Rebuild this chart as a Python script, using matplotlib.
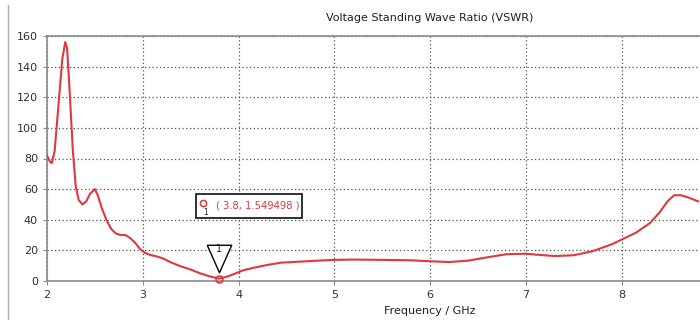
import matplotlib
matplotlib.use("Agg")
import matplotlib.pyplot as plt
import matplotlib.transforms as mtransforms
from matplotlib.lines import Line2D
from matplotlib.patches import Rectangle

# VSWR curve
freq = [2.00, 2.03, 2.05, 2.08, 2.12, 2.16, 2.19, 2.21, 2.24, 2.27, 2.30, 2.33,
        2.37, 2.41, 2.45, 2.50, 2.53, 2.57, 2.62, 2.67, 2.72, 2.77, 2.82, 2.87,
        2.92, 2.97, 3.02, 3.08, 3.15, 3.22, 3.30, 3.40, 3.50, 3.60, 3.70, 3.80,
        3.88, 3.95, 4.05, 4.15, 4.30, 4.45, 4.60, 4.80, 5.00, 5.20, 5.50, 5.80,
        6.00, 6.20, 6.40, 6.60, 6.80, 7.00, 7.15, 7.30, 7.50, 7.70, 7.90, 8.00,
        8.15, 8.30, 8.40, 8.48, 8.55, 8.62, 8.70, 8.80]
vswr = [82, 78, 77, 85, 115, 145, 156, 152, 120, 85, 62, 53,
        50, 52, 57, 60, 56, 48, 40, 34, 31, 30, 30, 28,
        25, 21, 18.5, 17, 16, 14.5, 12, 9.5, 7.5, 5, 3, 1.55,
        2.8, 4.5, 7, 8.5, 10.5, 12, 12.5, 13.2, 13.8, 14, 13.8, 13.5,
        12.9, 12.4, 13.3, 15.5, 17.5, 17.8, 17, 16.3, 16.8, 19.5, 24, 27,
        31.5, 38, 45, 52, 56, 56, 54.5, 52]

marker_x = 3.8
marker_y = 1.549498
marker_label = "1"

x_ticks = [2, 3, 4, 5, 6, 7, 8]
y_ticks = [0, 20, 40, 60, 80, 100, 120, 140, 160]

red = "#e0383c"
plt.rcParams["font.family"] = ["DejaVu Sans"]
plt.rcParams["font.size"] = 8

fig = plt.figure(figsize=(7, 3.2), dpi=100)
# the plot window is cut off on the right in the screenshot
ax = fig.add_axes([47 / 700, 1 - 281 / 320, 766 / 700, 245 / 320])

ax.plot(freq, vswr, color=red, lw=1.5, zorder=3)

ax.set_xlim(2, 10)
ax.set_ylim(0, 160)
ax.set_xticks(x_ticks)
ax.set_yticks(y_ticks)
ax.grid(True, color="#505050", linestyle=(0, (1, 2)), lw=0.9)
for side in ["left", "bottom", "top"]:
    ax.spines[side].set_color("#8a8a8a")
    ax.spines[side].set_linewidth(1.2)
ax.spines["right"].set_visible(False)
ax.tick_params(colors="#8a8a8a", labelcolor="#303030", length=3, labelsize=8)

ax.set_title("Voltage Standing Wave Ratio (VSWR)", fontsize=8, color="#202020", pad=11)
ax.set_xlabel("Frequency / GHz", fontsize=8, color="#202020", labelpad=4)

# marker point
ax.plot([marker_x], [marker_y], marker="o", ms=5, mfc="none", mec=red, mew=1.2,
        zorder=4, clip_on=False)

# pixel offsets measured from the marker point
at_marker = mtransforms.IdentityTransform() + \
    mtransforms.ScaledTranslation(marker_x, marker_y, ax.transData)

# triangle flag above the marker
tri = mtransforms.offset_copy(ax.transData, fig=fig, x=0, y=22, units="dots")
ax.plot([marker_x], [marker_y], marker=[(-1, 1), (1, 1), (0, -1.25), (-1, 1)],
        ms=22, mfc="white", mec="black", mew=1.0, transform=tri, zorder=5)
ax.annotate(marker_label, (marker_x, marker_y), xytext=(0, 30),
            textcoords="offset pixels", ha="center", va="center",
            fontsize=7, color="#202020", zorder=6)

# value box
ax.add_patch(Rectangle((-23, 61), 106, 24, transform=at_marker, fc="white",
                       ec="#202020", lw=1.3, zorder=6))
box_text = "( {}, {} )".format(marker_x, marker_y)
ax.annotate(box_text, (marker_x, marker_y), xytext=(-3, 73),
            textcoords="offset pixels", ha="left", va="center",
            fontsize=7.2, color=red, zorder=7)
icon = mtransforms.offset_copy(ax.transData, fig=fig, x=-16, y=76, units="dots")
ax.plot([marker_x], [marker_y], marker="o", ms=4.5, mfc="none", mec=red, mew=1.1,
        transform=icon, zorder=7)
ax.annotate(marker_label, (marker_x, marker_y), xytext=(-14, 66),
            textcoords="offset pixels", ha="center", va="center",
            fontsize=5.5, color="#202020", zorder=7)

# window frame line on the left
fig.add_artist(Line2D([8 / 700, 8 / 700], [0, 0.985], color="#b0b0b0", lw=1))

fig.savefig("out.png", dpi=100)
